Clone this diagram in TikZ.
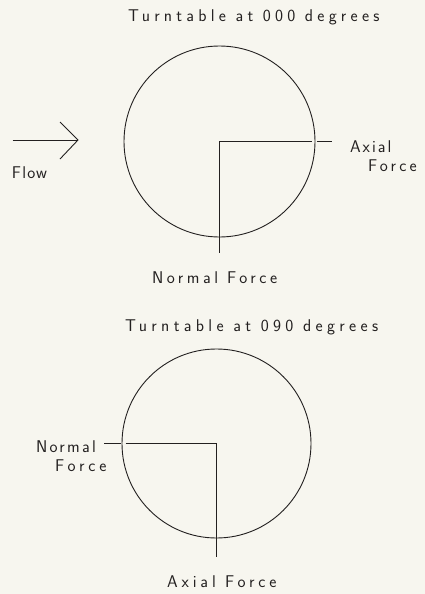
\documentclass[tikz,border=0pt]{standalone}
\usepackage{fontspec}
\setsansfont{Latin Modern Sans}
\definecolor{paper}{RGB}{247,246,239}
\definecolor{ink}{RGB}{35,32,32}
\newcommand{\spc}[1]{\addfontfeature{LetterSpace=#1}}
\begin{document}
\begin{tikzpicture}[x=1pt,y=-1pt,
  lbl/.style={inner sep=0pt,outer sep=0pt,text=ink,anchor=base west,font=\sffamily\fontsize{17}{19}\selectfont},
  ln/.style={draw=ink,line width=0.9pt}]
\fill[paper] (0,0) rectangle (425,594);
\useasboundingbox (0,0) rectangle (425,594);
% ---------- top: turntable at 000 ----------
\node[lbl] (t1) at (128,21.5) {\spc{25}Turntable at 000 degrees};
\coordinate (c1) at (219.5,141.5);
\draw[ln] (c1) circle[radius=95.5];
\coordinate (g1a) at (311.8,141.5);
\coordinate (g1b) at (316.8,141.5);
\coordinate (ax1) at (332,141.5);
\coordinate (nf1) at (219.5,253);
\draw[ln] (g1a) -- (c1) -- (nf1);
\draw[ln] (g1b) -- (ax1);
\node[lbl] (axa) at (350,152) {\spc{12}Axial};
\node[lbl] (axb) at (368,171) {\spc{19}Force};
\node[lbl] (nfl) at (152,283) {\spc{21}Normal Force};
% flow arrow
\coordinate (fs) at (12.7,140);
\coordinate (fe) at (78,140);
\coordinate (fh1) at (60,122);
\coordinate (fh2) at (60,159);
\draw[ln] (fs) -- (fe);
\draw[ln] (fh1) -- (fe) -- (fh2);
\node[lbl] (flow) at (12,178) {\spc{7}Flow};
% ---------- bottom: turntable at 090 ----------
\node[lbl] (t2) at (125,331) {\spc{25.5}Turntable at 090 degrees};
\coordinate (c2) at (216.5,443.5);
\draw[ln] (c2) circle[radius=94.5];
\coordinate (nf2) at (104,443.5);
\coordinate (g2a) at (120.5,443.5);
\coordinate (g2b) at (125.5,443.5);
\coordinate (ax2) at (216.5,557);
\draw[ln] (g2b) -- (c2) -- (ax2);
\draw[ln] (nf2) -- (g2a);
\node[lbl] (nfa) at (36,452) {\spc{13.5}Normal};
\node[lbl] (nfb) at (55,471) {\spc{23}Force};
\node[lbl] (axl) at (167,587) {\spc{23}Axial Force};
\end{tikzpicture}
\end{document}
